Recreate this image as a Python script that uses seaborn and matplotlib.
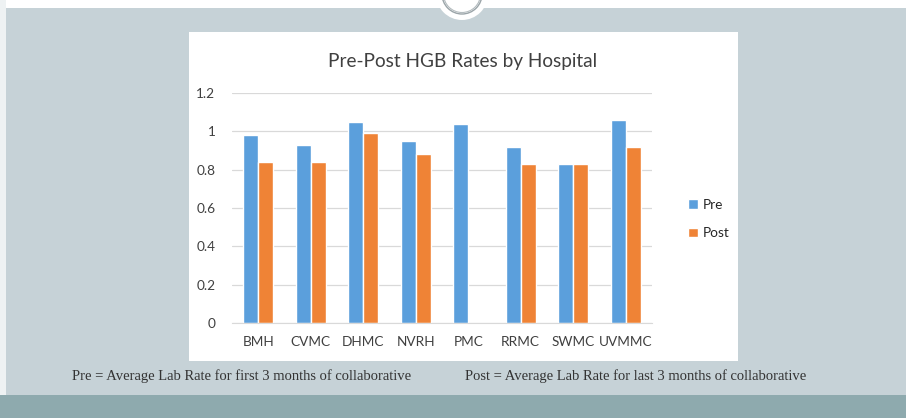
import matplotlib
matplotlib.use("Agg")
import matplotlib.pyplot as plt
from matplotlib.patches import Rectangle, Circle
import seaborn as sns
import pandas as pd

hospitals = ["BMH", "CVMC", "DHMC", "NVRH", "PMC", "RRMC", "SWMC", "UVMMC"]
pre_rates = [0.98, 0.93, 1.05, 0.95, 1.04, 0.92, 0.83, 1.06]
post_rates = [0.84, 0.84, 0.99, 0.88, None, 0.83, 0.83, 0.92]
series_names = ["Pre", "Post"]
bar_colors = ["#5b9fdc", "#ef8336"]
caption_pre = "Pre = Average Lab Rate for first 3 months of collaborative"
caption_post = "Post = Average Lab Rate for last 3 months of collaborative"

df = pd.DataFrame({"Hospital": hospitals, "Pre": pre_rates, "Post": post_rates})
df_melted = pd.melt(df, id_vars=["Hospital"], value_vars=series_names,
                    var_name="Period", value_name="Rate")

sns.set_style("white")
plt.rcParams["font.family"] = ["Lato", "DejaVu Sans"]

W, H = 906, 418
fig = plt.figure(figsize=(W / 100, H / 100), dpi=100)
fig.patch.set_facecolor("#c6d2d7")

def px_rect(x0, y0, x1, y1, **kw):
    # rectangle given in pixel coords, y measured from top
    return Rectangle((x0 / W, 1 - y1 / H), (x1 - x0) / W, (y1 - y0) / H,
                     transform=fig.transFigure, zorder=-1, **kw)

# slide decoration
fig.patches.append(px_rect(0, 0, W, 8, facecolor="white", edgecolor="none"))
fig.patches.append(px_rect(0, 0, 6, H, facecolor="#eef2f3", edgecolor="none"))
fig.patches.append(px_rect(0, 395, W, H, facecolor="#8eaaae", edgecolor="none"))
fig.patches.append(px_rect(189, 32, 738, 361, facecolor="white", edgecolor="none"))
# emblem at top centre: white disc with double grey ring (pixel transform keeps it round)
fig.patches.append(Circle((462, H + 6), 26, transform=None,
                          facecolor="white", edgecolor="none", zorder=-1))
fig.patches.append(Circle((462, H + 6), 20, transform=None,
                          facecolor="none", edgecolor="#9aa4a8", linewidth=1.0, zorder=-1))
fig.patches.append(Circle((462, H + 6), 18.5, transform=None,
                          facecolor="none", edgecolor="#b4bcbf", linewidth=0.8, zorder=-1))

ax = fig.add_axes([232 / W, 1 - 323 / H, (652 - 232) / W, (323 - 93) / H])
sns.barplot(x="Hospital", y="Rate", hue="Period", data=df_melted,
            palette=bar_colors, width=0.57, gap=0, ax=ax, saturation=1)

ax.set_ylim(0, 1.2)
ax.set_yticks([0, 0.2, 0.4, 0.6, 0.8, 1.0, 1.2])
ax.set_yticklabels(["0", "0.2", "0.4", "0.6", "0.8", "1", "1.2"])
ax.yaxis.grid(True, color="#d9d9d9", linewidth=0.9)
ax.set_axisbelow(True)
for side in ["top", "right", "left"]:
    ax.spines[side].set_visible(False)
ax.spines["bottom"].set_color("#d9d9d9")
ax.tick_params(axis="both", length=0, labelsize=9.8, labelcolor="#404040")
ax.tick_params(axis="y", pad=12)
ax.tick_params(axis="x", pad=9)
ax.set_xlabel("")
ax.set_ylabel("")
ax.set_facecolor("white")

handles, labels = ax.get_legend_handles_labels()
ax.legend(handles, labels, loc="center left", bbox_to_anchor=(676 / W, 1 - 219 / H),
          bbox_transform=fig.transFigure, frameon=False, fontsize=9.8,
          handlelength=0.7, handleheight=0.7, handletextpad=0.4, labelspacing=1.2)

fig.text(463 / W, 1 - 61 / H, "Pre-Post HGB Rates by Hospital", ha="center", va="center",
         fontsize=13.7, color="#404040")

fig.text(72 / W, 1 - 376 / H, caption_pre, ha="left", va="center",
         fontsize=10.5, family="Liberation Serif", color="#333333")
fig.text(465 / W, 1 - 376 / H, caption_post, ha="left", va="center",
         fontsize=10.5, family="Liberation Serif", color="#333333")

fig.savefig("out.png", dpi=100, facecolor=fig.get_facecolor())
